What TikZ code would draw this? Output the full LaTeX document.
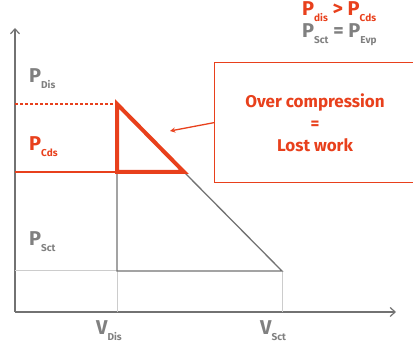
\documentclass[tikz,border=0pt]{standalone}
\usepackage{fontspec}
\setmainfont{Fira Sans}
\usepackage{xcolor}
\definecolor{lossred}{HTML}{E8401C}
\definecolor{axisgray}{HTML}{727272}
\definecolor{labelgray}{HTML}{808080}
\definecolor{guidegray}{HTML}{CCCCCC}
\usetikzlibrary{calc,arrows.meta,positioning}

% pressure / volume label with a low subscript
\newcommand{\pvlabel}[2]{#1\raisebox{-0.5ex}{\fontsize{10}{10}\selectfont #2}}

\begin{document}
\begin{tikzpicture}[x=1pt, y=-1pt, >=stealth,
    axis/.style={draw=axisgray, line width=1.2pt, -{Straight Barb[length=5pt,width=9pt]}},
    guide/.style={draw=guidegray, line width=1pt},
    cycle/.style={draw=axisgray, line width=1.3pt},
    lbl/.style={font=\fontsize{20}{20}\selectfont\bfseries, inner sep=0pt, anchor=base west}]
    \useasboundingbox (0,0) rectangle (413,344);

    % Axes
    \coordinate (O) at (15,312);
    \coordinate (Ytop) at (15,28);
    \coordinate (Xend) at (396,312);
    \draw[axis] (O) -- (Ytop);
    \draw[axis] (O) -- (Xend);

    % Cycle points
    \coordinate (Dis) at (117,104);
    \coordinate (Cds) at (117,172);
    \coordinate (CdsEnd) at (184,172);
    \coordinate (SctDis) at (117,271);
    \coordinate (Sct) at (282,271);
    \coordinate (VDis) at (117,312);
    \coordinate (VSct) at (282,312);
    \coordinate (PDis) at (15,104);
    \coordinate (PCds) at (15,172);
    \coordinate (PSct) at (15,271);

    % Guide lines
    \draw[guide] (PSct) -- (SctDis);
    \draw[guide] (SctDis) -- (VDis);
    \draw[guide] (Sct) -- (VSct);
    \draw[lossred, line width=1.4pt, dash pattern=on 3pt off 2pt] (PDis) -- (Dis);
    \draw[lossred, line width=1.4pt] (PCds) -- (Cds);

    % Compression cycle
    \draw[cycle] (Cds) -- (SctDis) -- (Sct) -- (CdsEnd);

    % Lost work triangle
    \draw[lossred, line width=4pt, line join=miter] (Dis) -- (Cds) -- (CdsEnd) -- cycle;

    % Axis labels
    \node[lbl, labelgray] (lDis) at (29,83) {\pvlabel{P}{Dis}};
    \node[lbl, lossred] (lCds) at (29,151) {\pvlabel{P}{Cds}};
    \node[lbl, labelgray] (lSct) at (29,246) {\pvlabel{P}{Sct}};
    \node[lbl, labelgray] (lVDis) at (96,335) {\pvlabel{V}{Dis}};
    \node[lbl, labelgray] (lVSct) at (260,335) {\pvlabel{V}{Sct}};

    % Explanation box
    \node[draw=lossred, line width=1.3pt, minimum width=220pt, minimum height=120pt,
          anchor=north west, inner sep=0pt] (box) at (214,62) {};
    \node[lossred, font=\fontsize{17}{22}\selectfont\bfseries, align=center] (boxtext)
        at (315,123) {Over compression\\=\\Lost work};
    \coordinate (tip) at (170,131);
    \draw[->, lossred, line width=1.3pt] ($(box.north west)!0.5!(box.south west)$) -- (tip);

    % Pressure relations
    \node[lbl, lossred] (rel1) at (302,16) {\pvlabel{P}{dis} > \pvlabel{P}{Cds}};
    \node[lbl, labelgray] (rel2) at (302,38) {\pvlabel{P}{Sct} = \pvlabel{P}{Evp}};
\end{tikzpicture}
\end{document}
